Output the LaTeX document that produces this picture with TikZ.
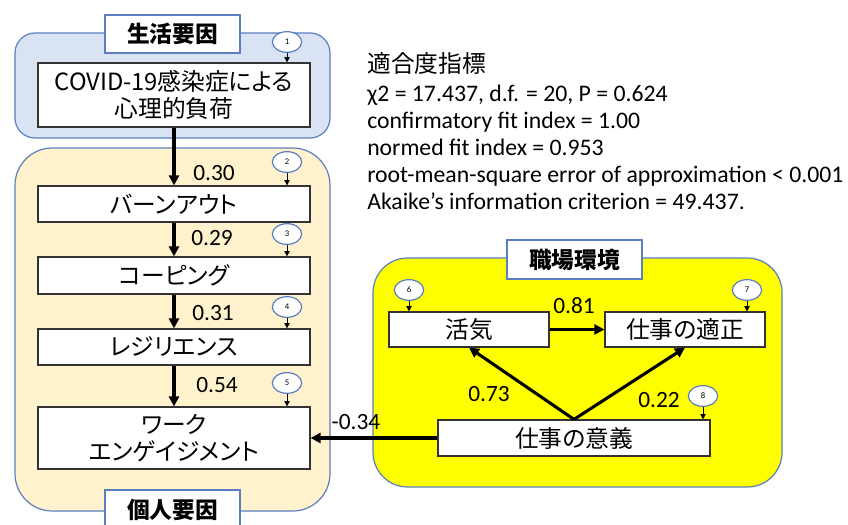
\documentclass[tikz,border=0pt]{standalone}
\usepackage{fontspec}
\setmainfont{Carlito}
\newfontfamily\jp{Noto Sans CJK JP}[RawFeature=+palt]
\usetikzlibrary{arrows.meta,shapes.geometric}
\definecolor{lblue}{HTML}{DAE3F3}
\definecolor{lorange}{HTML}{FFF2CC}
\definecolor{edgeblue}{HTML}{5A7EC0}
\definecolor{yel}{HTML}{FFFF00}
\begin{document}
\begin{tikzpicture}[x=0.75pt,y=-0.75pt,
  region/.style={draw=edgeblue, line width=0.9pt},
  box/.style={draw=black!80, line width=0.9pt, fill=white, align=center, inner sep=0pt,
    font=\jp\fontsize{17.8}{20.25}\selectfont},
  tag/.style={draw=edgeblue, line width=0.9pt, fill=white, inner sep=0pt, minimum width=101.25pt,
    font=\jp\bfseries\fontsize{17}{20}\selectfont},
  errc/.style={ellipse, draw=edgeblue, line width=0.9pt, fill=white, minimum width=22pt,
    minimum height=15.5pt, inner sep=0pt, font=\fontsize{6.5}{7}\selectfont},
  coef/.style={font=\fontsize{17.5}{20}\selectfont, inner sep=0pt},
  pathar/.style={line width=2.3pt, -{Triangle[length=7.5pt,width=7.5pt]}},
  small/.style={line width=0.6pt, -{Triangle[length=4pt,width=4pt]}}]
\useasboundingbox (0,0) rectangle (848,524);
% regions
\draw[region, fill=lblue, rounded corners=15pt] (15,33) rectangle (330,138);
\draw[region, fill=lorange, rounded corners=28pt] (15,148) rectangle (330,511);
\draw[region, fill=yel, rounded corners=26pt] (373,258) rectangle (782,487);
% tags
\node[tag, minimum height=28.5pt] (tagA) at (172.5,34) {生活要因};
\node[tag, minimum height=30pt] (tagB) at (172.5,510) {個人要因};
\node[tag, minimum height=29.25pt] (tagC) at (574.5,259.5) {職場環境};
% boxes
\node[box, minimum width=204pt, minimum height=48pt] (covid) at (174,95) {COVID-19感染症による\\心理的負荷};
\node[box, minimum width=204pt, minimum height=27pt] (burn) at (174,204) {バーンアウト};
\node[box, minimum width=204pt, minimum height=27.75pt] (cope) at (174,275.5) {コーピング};
\node[box, minimum width=204pt, minimum height=27pt] (resi) at (174,347) {レジリエンス};
\node[box, minimum width=204pt, minimum height=46.5pt] (enga) at (174,438) {ワーク\\エンゲイジメント};
\node[box, minimum width=120pt, minimum height=26.25pt] (kakki) at (469,329.5) {活気};
\node[box, minimum width=120pt, minimum height=26.25pt] (teki) at (685,329.5) {仕事の適正};
\node[box, minimum width=204pt, minimum height=27pt] (igi) at (574,438) {仕事の意義};
% error circles
\node[errc] (e1) at (287,42) {1};
\node[errc] (e2) at (287,162) {2};
\node[errc] (e3) at (287,234) {3};
\node[errc] (e4) at (287,307) {4};
\node[errc] (e5) at (287,383) {5};
\node[errc] (e6) at (409,290) {6};
\node[errc] (e7) at (747,290) {7};
\node[errc] (e8) at (703,396) {8};
\draw[small] (e1.south) -- (e1.south |- covid.north);
\draw[small] (e2.south) -- (e2.south |- burn.north);
\draw[small] (e3.south) -- (e3.south |- cope.north);
\draw[small] (e4.south) -- (e4.south |- resi.north);
\draw[small] (e5.south) -- (e5.south |- enga.north);
\draw[small] (e6.south) -- (e6.south |- kakki.north);
\draw[small] (e7.south) -- (e7.south |- teki.north);
\draw[small] (e8.south) -- (e8.south |- igi.north);
% paths
\draw[pathar] (covid.south) -- (burn.north);
\draw[pathar] (burn.south) -- (cope.north);
\draw[pathar] (cope.south) -- (resi.north);
\draw[pathar] (resi.south) -- (enga.north);
\draw[pathar] (igi.west) -- (enga.east);
\draw[pathar] (kakki.east) -- (teki.west);
\draw[pathar] (igi.north) -- (kakki.south);
\draw[pathar] (igi.north) -- (teki.south);
% coefficients
\node[coef] (k1) at (214,173) {0.30};
\node[coef] (k2) at (212,238) {0.29};
\node[coef] (k3) at (213,313) {0.31};
\node[coef] (k4) at (217,385) {0.54};
\node[coef] (k5) at (356,422) {-0.34};
\node[coef] (k6) at (574,306) {0.81};
\node[coef] (k7) at (489,394) {0.73};
\node[coef] (k8) at (659,400) {0.22};
% fit indices
\node[anchor=north west, align=left, inner sep=0pt, font=\fontsize{17.8}{20.25}\selectfont] (fit) at (367,52)
 {{\jp 適合度指標}\\[1.5pt]
  χ2 = 17.437, d.f. = 20, P = 0.624\\
  confirmatory fit index = 1.00\\
  normed fit index = 0.953\\
  root-mean-square error of approximation < 0.001\\
  Akaike’s information criterion = 49.437.};
\end{tikzpicture}
\end{document}
